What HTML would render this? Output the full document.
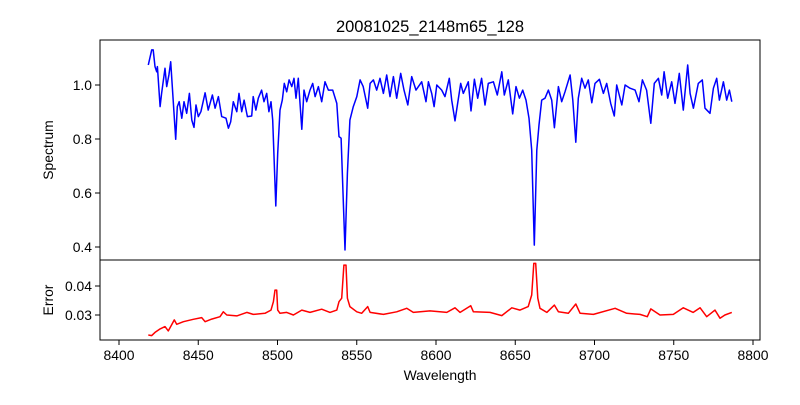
<!DOCTYPE html>
<html><head><meta charset="utf-8"><style>
body{margin:0;background:#fff;}
svg text{font-family:"Liberation Sans",sans-serif;fill:#000;}
</style></head><body>
<svg id="chart" width="800" height="400" xmlns="http://www.w3.org/2000/svg">
<rect width="800" height="400" fill="#fff"/>
<text x="430" y="32" font-size="16.5" text-anchor="middle">20081025_2148m65_128</text>
<g id="topPanel"></g>
<g id="botPanel"></g>
<text transform="translate(53,150) rotate(-90)" font-size="13.9" text-anchor="middle">Spectrum</text>
<text transform="translate(53,300) rotate(-90)" font-size="13.9" text-anchor="middle">Error</text>
<text x="440" y="380" font-size="13.9" text-anchor="middle">Wavelength</text>
</svg>
<script>
const specWave=[8418.5,8420.6,8421.6,8422.7,8423.8,8424.2,8425.9,8426.9,8429.0,8430.1,8431.5,8432.6,8433.6,8435.8,8436.8,8438.0,8439.6,8441.0,8442.7,8444.4,8445.9,8447.3,8448.6,8450.0,8451.7,8454.3,8456.3,8458.9,8460.6,8462.7,8464.8,8467.5,8469.0,8470.5,8472.1,8474.3,8475.7,8477.4,8478.9,8481.0,8483.7,8484.7,8486.4,8487.9,8490.0,8491.5,8493.2,8494.6,8495.9,8497.0,8498.9,8500.1,8501.6,8503.0,8504.3,8505.8,8507.3,8509.0,8510.4,8511.7,8513.1,8515.3,8516.7,8518.4,8520.5,8522.2,8523.7,8525.8,8527.9,8530.0,8532.1,8534.8,8537.4,8538.8,8540.1,8542.6,8544.1,8545.7,8547.8,8550.0,8552.1,8554.1,8556.9,8558.4,8560.5,8562.6,8564.7,8566.8,8568.9,8571.0,8573.1,8575.2,8577.7,8579.8,8582.2,8584.7,8587.4,8591.0,8593.7,8595.2,8597.3,8598.8,8600.5,8603.6,8605.7,8608.4,8609.9,8612.0,8613.5,8615.6,8617.2,8620.4,8622.1,8624.2,8626.3,8628.8,8630.9,8633.0,8636.2,8638.7,8641.5,8643.1,8645.6,8648.4,8650.5,8652.6,8654.7,8656.8,8658.7,8660.4,8662.0,8663.6,8665.0,8666.7,8668.8,8670.9,8673.0,8674.7,8677.2,8679.3,8681.4,8684.6,8686.3,8688.2,8689.8,8691.9,8694.0,8696.1,8698.3,8700.3,8703.1,8705.6,8707.7,8710.2,8712.5,8714.0,8717.2,8719.3,8722.4,8725.6,8728.1,8730.2,8732.9,8735.5,8737.7,8740.3,8742.4,8743.9,8746.2,8748.7,8750.8,8753.5,8756.0,8758.8,8760.3,8762.4,8765.5,8768.0,8769.7,8772.9,8775.0,8777.1,8778.8,8781.3,8783.4,8785.1,8786.6];
const specFlux=[1.074,1.130,1.130,1.068,1.049,1.068,0.920,0.969,1.062,0.994,1.037,1.086,0.994,0.799,0.920,0.938,0.877,0.938,0.895,0.969,0.870,0.843,0.926,0.883,0.901,0.971,0.907,0.963,0.914,0.957,0.883,0.877,0.840,0.864,0.938,0.901,0.969,0.901,0.944,0.883,0.885,0.957,0.907,0.951,0.981,0.938,0.969,0.901,0.938,0.870,0.552,0.747,0.907,0.944,1.006,0.975,1.019,0.994,1.025,0.951,1.025,0.836,0.981,0.938,0.981,1.006,0.957,0.994,0.938,1.012,0.981,0.981,0.932,0.809,0.803,0.389,0.673,0.870,0.920,0.957,1.019,0.994,0.914,1.006,1.019,0.981,1.025,0.969,1.037,0.957,1.031,0.951,1.043,0.981,0.926,1.031,0.981,1.012,0.938,1.012,0.969,0.920,1.000,0.981,0.957,1.025,0.944,0.867,0.926,1.006,0.969,1.012,0.904,1.021,0.951,1.025,0.926,1.006,1.012,0.963,1.049,0.963,1.019,0.893,0.994,0.951,0.981,0.944,0.877,0.759,0.407,0.759,0.852,0.944,0.951,0.981,0.944,0.842,0.994,0.938,0.975,1.037,0.944,0.788,0.951,1.025,0.988,1.019,0.934,1.006,1.021,0.969,1.006,0.932,0.885,1.000,0.926,1.000,0.988,0.981,0.938,1.019,0.981,0.858,1.006,1.025,0.963,1.049,0.951,1.012,0.932,1.043,0.907,1.074,0.969,0.914,1.006,1.019,0.914,0.895,0.988,1.025,0.944,1.012,0.944,0.981,0.938];
const errWave=[8418.5,8420.6,8422.7,8425.9,8429.0,8431.1,8433.2,8434.9,8436.4,8440.6,8446.9,8452.2,8454.3,8458.5,8463.7,8465.8,8468.0,8474.3,8480.6,8484.7,8492.1,8495.9,8497.4,8498.4,8499.5,8500.1,8501.6,8505.8,8510.0,8515.3,8520.5,8527.9,8533.1,8537.4,8538.8,8540.5,8541.9,8543.2,8544.1,8545.7,8550.0,8553.1,8556.9,8558.4,8566.8,8575.2,8581.5,8585.7,8596.2,8606.8,8612.0,8615.2,8621.9,8623.6,8634.1,8641.5,8647.8,8653.0,8658.2,8660.4,8661.7,8662.9,8664.2,8665.6,8669.9,8674.7,8677.2,8683.5,8688.2,8690.9,8699.3,8713.0,8720.3,8728.7,8733.3,8735.5,8741.3,8749.7,8756.0,8762.3,8766.6,8770.8,8776.0,8779.2,8782.3,8786.6];
const errVal=[0.0231,0.0229,0.0240,0.0252,0.0260,0.0245,0.0266,0.0283,0.0268,0.0277,0.0285,0.0291,0.0277,0.0286,0.0294,0.0311,0.0300,0.0297,0.0309,0.0302,0.0306,0.0317,0.0346,0.0386,0.0386,0.0317,0.0306,0.0309,0.0300,0.0317,0.0309,0.0320,0.0309,0.0317,0.0346,0.0358,0.0472,0.0472,0.0358,0.0329,0.0311,0.0306,0.0329,0.0309,0.0302,0.0311,0.0323,0.0309,0.0314,0.0309,0.0325,0.0309,0.0332,0.0311,0.0309,0.0298,0.0325,0.0317,0.0329,0.0369,0.0478,0.0478,0.0358,0.0323,0.0309,0.0334,0.0311,0.0306,0.0338,0.0306,0.0302,0.0323,0.0306,0.0302,0.0294,0.0321,0.0300,0.0302,0.0325,0.0309,0.0325,0.0294,0.0317,0.0289,0.0300,0.0309];
const xTicks=[8400,8450,8500,8550,8600,8650,8700,8750,8800];
const specTicks=[0.4,0.6,0.8,1.0];
const errTicks=[0.03,0.04];

const NS='http://www.w3.org/2000/svg';
const L=100,R=760;
const xs=w=>119+(w-8400)*1.585;
const ySpec=f=>85-(f-1.0)*270;
const yErr=e=>315-(e-0.03)*2900;
function mk(tag,attrs,parent){const e=document.createElementNS(NS,tag);for(const k in attrs)e.setAttribute(k,attrs[k]);parent.appendChild(e);return e;}
const topG=document.getElementById('topPanel'),botG=document.getElementById('botPanel');

function drawLine(parent,xsArr,ysArr,yf,color,name){
  const n=Math.min(xsArr.length,ysArr.length);
  let d='';
  for(let i=0;i<n;i++){d+=(i?'L':'M')+xs(xsArr[i]).toFixed(1)+','+yf(ysArr[i]).toFixed(1);}
  const p=mk('path',{d:d,fill:'none',stroke:color,'stroke-width':1.5,'stroke-linejoin':'round'},parent);
  
  
}
drawLine(topG,specWave,specFlux,ySpec,'#0000ff','spectrum-line');
drawLine(botG,errWave,errVal,yErr,'#ff0000','error-line');

const f1=mk('rect',{x:L,y:40,width:R-L,height:220,fill:'none',stroke:'#000','stroke-width':1},topG);


const f2=mk('rect',{x:L,y:260,width:R-L,height:80,fill:'none',stroke:'#000','stroke-width':1},botG);



specTicks.forEach(v=>{
  const y=ySpec(v);
  mk('line',{x1:L,x2:L-5,y1:y,y2:y,stroke:'#000'},topG);
  const t=mk('text',{x:L-8,y:y+5,'font-size':13.9,'text-anchor':'end'},topG);
  t.textContent=v.toFixed(1);
  
  
});
errTicks.forEach(v=>{
  const y=yErr(v);
  mk('line',{x1:L,x2:L-5,y1:y,y2:y,stroke:'#000'},botG);
  const t=mk('text',{x:L-8,y:y+5,'font-size':13.9,'text-anchor':'end'},botG);
  t.textContent=v.toFixed(2);
  
  
});
xTicks.forEach(v=>{
  const x=xs(v);
  mk('line',{x1:x,x2:x,y1:340,y2:345,stroke:'#000'},botG);
  const t=mk('text',{x:x,y:360,'font-size':13.9,'text-anchor':'middle'},botG);
  t.textContent=v;
  
  
});
</script>
</body></html>
